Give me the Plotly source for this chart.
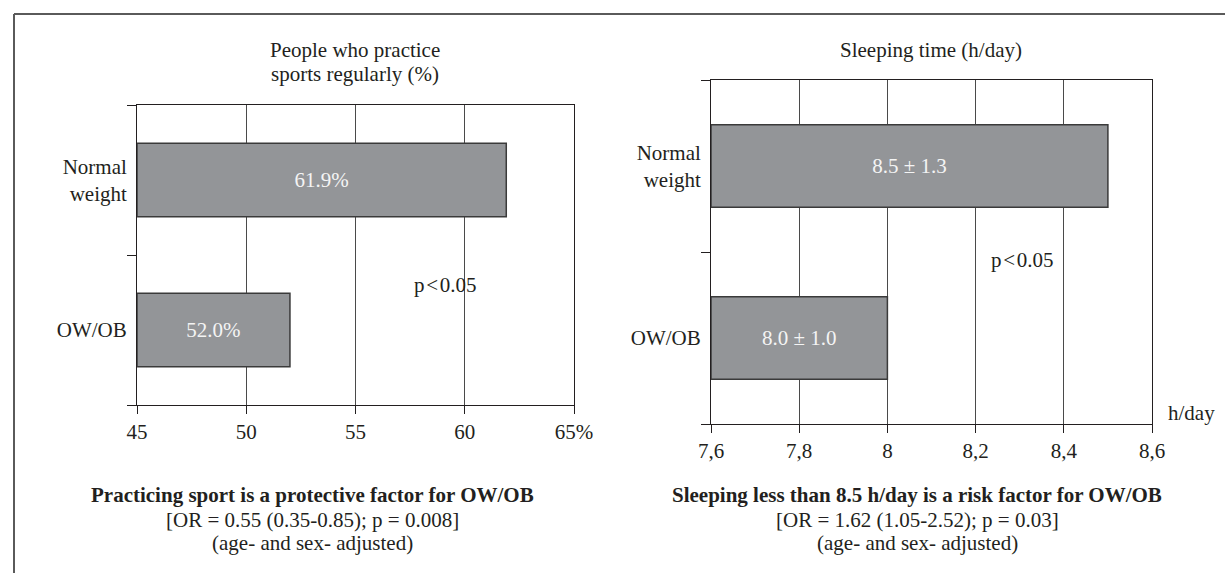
import plotly.graph_objects as go

# ---------------- data ----------------
categories = ["Normal weight", "OW/OB"]
sport_pct = [61.9, 52.0]
sleep_mean = [8.5, 8.0]
sleep_sd = [1.3, 1.0]
sport_ticks = [45, 50, 55, 60, 65]
sport_ticktext = ["45", "50", "55", "60", "65%"]
sleep_ticks = [7.6, 7.8, 8.0, 8.2, 8.4, 8.6]
sleep_ticktext = ["7,6", "7,8", "8", "8,2", "8,4", "8,6"]
sport_base = 45
sleep_base = 7.6

# ---------------- style ----------------
W, H = 1225, 573
FONT = "Liberation Serif"
FS = 21
BAR_FILL = "#939598"
BAR_LINE = "#3a3a3a"
GRID = "#4a4a4a"
TXT = "#231f20"

ylabels = [c.replace(" ", "<br>") for c in categories]
order = ylabels[::-1]  # bottom to top

def px(x):
    return x / W

def py(y):
    return 1 - y / H

fig = go.Figure()

fig.add_trace(go.Bar(
    y=ylabels, x=[v - sport_base for v in sport_pct], base=sport_base,
    orientation="h", width=0.49,
    marker=dict(color=BAR_FILL, line=dict(color=BAR_LINE, width=1.5)),
    text=[f"{v:.1f}%" for v in sport_pct], textposition="inside",
    insidetextanchor="middle", textangle=0,
    textfont=dict(color="#f4f4f4", size=FS, family=FONT),
    xaxis="x", yaxis="y", hoverinfo="skip", showlegend=False,
))

fig.add_trace(go.Bar(
    y=ylabels, x=[v - sleep_base for v in sleep_mean], base=sleep_base,
    orientation="h", width=0.48,
    marker=dict(color=BAR_FILL, line=dict(color=BAR_LINE, width=1.5)),
    text=[f"{m:.1f} ± {s:.1f}" for m, s in zip(sleep_mean, sleep_sd)],
    textposition="inside", insidetextanchor="middle", textangle=0,
    textfont=dict(color="#f4f4f4", size=FS, family=FONT),
    xaxis="x2", yaxis="y2", hoverinfo="skip", showlegend=False,
))

xcommon = dict(
    ticks="outside", ticklen=8, tickcolor=TXT, tickwidth=1,
    showline=True, linecolor=TXT, linewidth=1, mirror=True,
    showgrid=True, gridcolor=GRID, gridwidth=1, zeroline=False,
    tickfont=dict(family=FONT, size=FS, color=TXT), tickmode="array",
    automargin=False,
)
ycommon = dict(
    type="category", categoryorder="array", categoryarray=order,
    tickson="boundaries", ticks="outside", ticklen=9, tickcolor=TXT,
    showline=True, linecolor=TXT, linewidth=1, mirror=True,
    showgrid=False, zeroline=False, automargin=False,
    ticklabelstandoff=5,
    tickfont=dict(family=FONT, size=FS, color=TXT),
)

fig.update_layout(
    width=W, height=H, autosize=False,
    margin=dict(l=0, r=0, t=0, b=0, pad=0, autoexpand=False),
    paper_bgcolor="white", plot_bgcolor="white",
    font=dict(family=FONT, size=FS, color=TXT),
    bargap=0.5,
    xaxis=dict(domain=[px(137), px(574)], range=[45, 65], anchor="y",
               tickvals=sport_ticks, ticktext=sport_ticktext, **xcommon),
    yaxis=dict(domain=[py(405), py(105)], anchor="x", **ycommon),
    xaxis2=dict(domain=[px(711), px(1152)], range=[7.6, 8.6], anchor="y2",
                tickvals=sleep_ticks, ticktext=sleep_ticktext, **xcommon),
    yaxis2=dict(domain=[py(424), py(80)], anchor="x2", **ycommon),
)

def ann(x, y, text, size=FS, xanchor="center", yanchor="middle"):
    fig.add_annotation(x=px(x), y=py(y), xref="paper", yref="paper",
                       text=text, showarrow=False, xanchor=xanchor,
                       yanchor=yanchor, align="center",
                       font=dict(family=FONT, size=size, color=TXT))

P_TEXT = "p\u200a<\u200a0.05"

ann(355, 50, "People who practice")
ann(355, 74, "sports regularly (%)")
ann(931, 50, "Sleeping time (h/day)")
ann(445, 285, P_TEXT)
ann(1022, 260, P_TEXT)
ann(1166, 413, "h/day", xanchor="left")

ann(312, 495, "<b>Practicing sport is a protective factor for OW/OB</b>")
ann(312, 520, "[OR = 0.55 (0.35-0.85); p = 0.008]")
ann(312, 543, "(age- and sex- adjusted)")
ann(917, 495, "<b>Sleeping less than 8.5 h/day is a risk factor for OW/OB</b>")
ann(917, 520, "[OR = 1.62 (1.05-2.52); p = 0.03]")
ann(917, 543, "(age- and sex- adjusted)")

# outer frame (top and left edges)
fig.add_shape(type="line", xref="paper", yref="paper",
              x0=px(14), y0=py(14), x1=1, y1=py(14),
              line=dict(color="#5a5a5a", width=2))
fig.add_shape(type="line", xref="paper", yref="paper",
              x0=px(14), y0=py(14), x1=px(14), y1=0,
              line=dict(color="#5a5a5a", width=2))

fig.write_html(
    "out.html",
    config={"displayModeBar": False, "responsive": False},
    post_script="document.body.style.margin='0';document.body.style.overflow='hidden';",
)
